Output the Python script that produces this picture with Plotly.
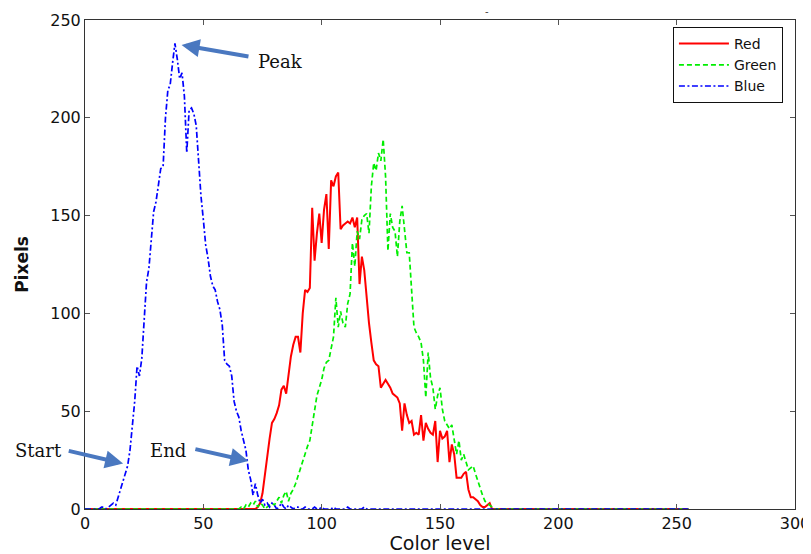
import plotly.graph_objects as go

levels = list(range(256))

# Blue histogram, color levels 0..119 (rest ~0)
blue_start = 0
blue_vals = [0, 0, 0, 0, 0, 0, 0, 1, 1, 0, 1, 2, 3, 2, 6, 9, 13, 18, 22, 30,
             41, 55, 73, 68, 77, 95, 116, 123, 138, 152, 157, 166, 174, 175, 200, 214, 217, 228, 238, 230,
             220, 223, 211, 182, 204, 205, 202, 196, 175, 160, 148, 135, 128, 119, 114, 112, 106, 102, 94, 76,
             74, 73, 68, 55, 50, 47, 40, 35, 30, 20, 15, 7, 13, 7, 3, 5, 2, 3, 1, 3,
             2, 0, 1, 3, 1, 0, 2, 1, 0, 1, 1, 0, 0, 1, 0, 0, 0, 1, 0, 0,
             1, 0, 0, 0, 0, 1, 0, 0, 0, 0, 0, 1, 0, 0, 0, 0, 0, 0, 1, 0]

# Red histogram, color levels 72..172
red_start = 72
red_vals = [0, 1, 3, 8, 18, 28, 36, 44, 46, 49, 53, 61, 63, 59, 70, 78, 84, 88, 88, 80,
            100, 112, 111, 113, 154, 127, 141, 151, 136, 153, 161, 133, 168, 165, 170, 172, 143, 145, 146, 147,
            146, 149, 144, 149, 115, 129, 122, 108, 95, 85, 76, 74, 73, 62, 64, 66, 64, 62, 59, 58,
            57, 54, 40, 54, 48, 44, 45, 38, 39, 38, 48, 35, 44, 41, 39, 38, 45, 24, 40, 36,
            37, 40, 24, 33, 28, 16, 16, 16, 18, 19, 10, 6, 6, 5, 4, 2, 1, 1, 2, 3, 0]

# Green histogram, color levels 65..173
green_start = 65
green_vals = [0, 1, 0, 2, 1, 3, 2, 4, 1, 3, 2, 0, 1, 2, 3, 2, 4, 6, 3, 7,
              9, 4, 8, 10, 13, 17, 20, 25, 29, 32, 35, 42, 49, 58, 62, 66, 72, 75, 76, 82,
              88, 108, 93, 101, 95, 93, 105, 110, 136, 124, 142, 138, 148, 150, 151, 141, 165, 177, 173, 182,
              178, 189, 170, 132, 151, 144, 142, 129, 147, 155, 142, 131, 131, 114, 93, 90, 88, 85, 76, 57,
              80, 67, 62, 51, 58, 62, 51, 45, 43, 41, 43, 36, 28, 35, 25, 28, 24, 20, 21, 22,
              18, 14, 10, 7, 4, 3, 2, 1, 0]


def full(start, vals):
    arr = [0] * start + list(vals)
    arr = arr + [0] * (len(levels) - len(arr))
    return arr[:len(levels)]


red = full(red_start, red_vals)
green = full(green_start, green_vals)
blue = full(blue_start, blue_vals)

x_ticks = [0, 50, 100, 150, 200, 250, 300]
y_ticks = [0, 50, 100, 150, 200, 250]

fig = go.Figure()
fig.add_trace(go.Scatter(x=levels, y=red, mode="lines", name="Red",
                         line=dict(color="#ff0000", width=2)))
fig.add_trace(go.Scatter(x=levels, y=green, mode="lines", name="Green",
                         line=dict(color="#00ee00", width=1.7, dash="5px,3px")))
fig.add_trace(go.Scatter(x=levels, y=blue, mode="lines", name="Blue",
                         line=dict(color="#0000ff", width=1.7, dash="6px,2.5px,2px,2.5px")))

arrow_color = "#4a78c0"
arrows = [
    # (head x, head y, tail x, tail y)
    (40.8, 237.2, 69.7, 231.2),
    (16.1, 23.2, -7.5, 29.9),
    (69.0, 24.5, 46.0, 30.8),
]
for hx, hy, tx, ty in arrows:
    fig.add_annotation(x=hx, y=hy, ax=tx, ay=ty, xref="x", yref="y", axref="x", ayref="y",
                       text="", showarrow=True, arrowhead=2, arrowsize=0.9,
                       arrowwidth=4, arrowcolor=arrow_color, standoff=0)

label_font = dict(family="DejaVu Serif", size=18, color="#111")
fig.add_annotation(x=82.8, y=228.6, xref="x", yref="y", text="Peak", showarrow=False, font=label_font,
                   xanchor="center", yanchor="middle")
fig.add_annotation(x=35.1, y=29.9, xref="x", yref="y", text="End", showarrow=False, font=label_font,
                   xanchor="center", yanchor="middle")
fig.add_annotation(x=-0.065, y=0.1196, xref="paper", yref="paper", text="Start", showarrow=False,
                   font=label_font, xanchor="center", yanchor="middle")

fig.add_annotation(x=0.566, y=1.018, xref="paper", yref="paper", text="-",
                   showarrow=False, font=dict(family="DejaVu Sans", size=10, color="#444"),
                   xanchor="center", yanchor="middle")

axis_common = dict(showgrid=False, zeroline=False, showline=True, linecolor="#333",
                   linewidth=1, mirror="ticks", ticks="inside", ticklen=5, automargin=False,
                   tickcolor="#555", tickfont=dict(family="DejaVu Sans", size=16, color="#111"))

fig.update_xaxes(range=[0, 300], tickvals=x_ticks,
                 title=dict(text="Color level", font=dict(family="DejaVu Sans", size=19, color="#111"),
                            standoff=1),
                 **axis_common)
fig.update_yaxes(range=[0, 250], tickvals=y_ticks,
                 title=dict(text="<b>Pixels</b>", font=dict(family="DejaVu Sans", size=17, color="#111"),
                            standoff=17),
                 **axis_common)

# The page body adds an 8px offset, so the figure is sized to the visible area.
fig.update_layout(
    width=803, height=546,
    margin=dict(l=77, r=16, t=12, b=45),
    plot_bgcolor="white", paper_bgcolor="white",
    showlegend=True,
    legend=dict(x=0.983, y=0.9857, xanchor="right", yanchor="top",
                bordercolor="#111", borderwidth=1, bgcolor="white",
                font=dict(family="DejaVu Sans", size=14, color="#111"),
                tracegroupgap=0, itemwidth=50),
)

fig.write_html("out.html")
